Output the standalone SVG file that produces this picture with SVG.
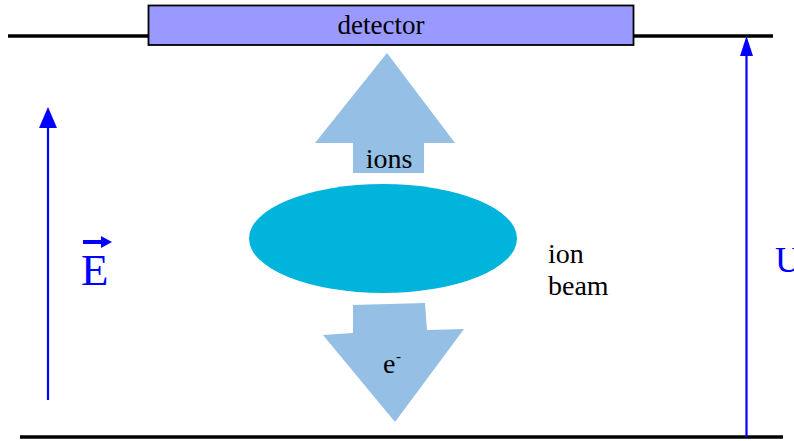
<svg xmlns="http://www.w3.org/2000/svg" width="794" height="441" viewBox="0 0 794 441">
<style>
text{font-family:'Liberation Serif',serif}
.plate{stroke:#000;stroke-width:3.5}
.field{stroke:#0000ff;stroke-width:2.2;fill:none}
.big{fill:#95bfe4}
</style>
<rect width="794" height="441" fill="#fff"/>
<g id="plates">
<line class="plate" x1="8" y1="36" x2="773" y2="36"/>
<line class="plate" x1="20" y1="437" x2="783" y2="437"/>
</g>
<g id="detector">
<rect x="148.5" y="5.5" width="485" height="39.5" fill="#9999ff" stroke="#000" stroke-width="1.8"/>
<text x="381" y="34" text-anchor="middle" font-family="Liberation Serif, serif" font-size="27" fill="#000">detector</text>
</g>
<g id="connectors">
<line class="field" x1="48" y1="400" x2="48" y2="127"/>
<polygon points="48,107 39,128 57,128" fill="#0000ff"/>
<line class="field" x1="746.5" y1="437" x2="746.5" y2="55"/>
<polygon points="746.5,36 740,56 753,56" fill="#0000ff"/>
</g>
<g id="E-label">
<line x1="83" y1="242" x2="104" y2="242" stroke="#0000ff" stroke-width="4"/>
<polygon points="112,242 101,236 101,248" fill="#0000ff"/>
<text x="81" y="285" font-family="Liberation Serif, serif" font-size="45" fill="#0000ff">E</text>
</g>
<g id="U-label">
<text x="775" y="272" font-family="Liberation Serif, serif" font-size="36" fill="#0000ff">U</text>
</g>
<g id="ions-arrow">
<polygon class="big" points="387,53 455,143 424,143 424,173 353,173 353,143 315,143"/>
<text x="389" y="168" text-anchor="middle" font-family="Liberation Serif, serif" font-size="28" fill="#000">ions</text>
</g>
<g id="ion-beam">
<ellipse cx="383" cy="238.5" rx="134" ry="54.5" fill="#00b4dc"/>
<text x="548" y="263" font-family="Liberation Serif, serif" font-size="28" fill="#000">ion</text>
<text x="548" y="295" font-family="Liberation Serif, serif" font-size="28" fill="#000">beam</text>
</g>
<g id="electron-arrow">
<polygon class="big" points="353,305 425,303 427,330 464,329 395,422 323,335 353,333"/>
<text x="383" y="373" font-family="Liberation Serif, serif" font-size="28" fill="#000">e</text>
<text x="396" y="361" font-family="Liberation Serif, serif" font-size="15" fill="#000">-</text>
</g>
</svg>
